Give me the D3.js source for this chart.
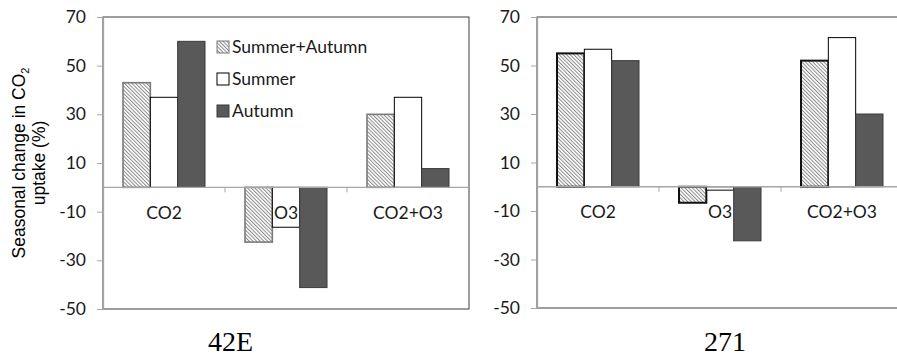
<!DOCTYPE html>
<html>
<head>
<meta charset="utf-8">
<script src="https://cdn.jsdelivr.net/npm/d3@7"></script>
<style>
  body { margin: 0; background: #fff; }
  svg { display: block; }
</style>
</head>
<body>
<svg id="chart" width="897" height="358"></svg>
<script>
// data (% change in CO2 uptake)
const categories = ["CO2", "O3", "CO2+O3"];
const seriesNames = ["Summer+Autumn", "Summer", "Autumn"];
const yTicks = [70, 50, 30, 10, -10, -30, -50];
const panelNames = ["42E", "271"];

const summerAutumn42E = [43, -22.5, 30];
const summer42E = [37, -16.4, 37];
const autumn42E = [60, -41.2, 7.7];

const summerAutumn271 = [55, -6.6, 52];
const summer271 = [56.7, -1.4, 61.5];
const autumn271 = [52, -22.3, 30];

let svg = d3.select("#chart");

// diagonal hatch for the Summer+Autumn bars
let defs = svg.append("defs");
let pat = defs.append("pattern")
  .attr("id", "hatch")
  .attr("patternUnits", "userSpaceOnUse")
  .attr("width", 2.6)
  .attr("height", 2.6)
  .attr("patternTransform", "rotate(-45)");
pat.append("rect").attr("width", 2.6).attr("height", 2.6).attr("fill", "#fff");
pat.append("line")
  .attr("x1", 0.5).attr("y1", 0).attr("x2", 0.5).attr("y2", 2.6)
  .attr("stroke", "#8a8a8a").attr("stroke-width", 1);

const tickFont = "Lato, 'DejaVu Sans', sans-serif";

// per-series look
let styleFor = {
  "Summer+Autumn": { fill: "url(#hatch)", stroke: "#7a7a7a", width: 1.6 },
  "Summer": { fill: "#fff", stroke: "#000", width: 1 },
  "Autumn": { fill: "#595959", stroke: "#3a3a3a", width: 1 }
};

function drawPanel(panel) {
  let y = d3.scaleLinear().domain([-50, 70]).range([panel.bottom, panel.top]);
  let x0 = d3.scaleBand().domain(categories).range([panel.left, panel.left + 366]);
  let x1 = d3.scaleBand().domain(seriesNames).range([20, 102]);

  let g = svg.append("g");

  // plot area frame
  g.append("rect")
    .attr("x", panel.left)
    .attr("y", panel.top)
    .attr("width", 366)
    .attr("height", panel.bottom - panel.top)
    .attr("fill", "none")
    .attr("stroke", "#3c3c3c")
    .attr("stroke-width", 1);

  // bars
  let rows = categories.map(function(c, i) {
    return seriesNames.map(function(s, j) {
      return { cat: c, series: s, value: panel.series[j][i] };
    });
  });
  let bars = [].concat.apply([], rows);

  g.append("g")
    .selectAll("rect")
    .data(bars)
    .enter()
    .append("rect")
    .attr("x", function(d) { return x0(d.cat) + x1(d.series); })
    .attr("width", x1.bandwidth())
    .attr("y", function(d) { return y(Math.max(0, d.value)); })
    .attr("height", function(d) { return Math.abs(y(d.value) - y(0)); })
    .attr("fill", function(d) { return styleFor[d.series].fill; })
    .attr("stroke", function(d) {
      return d.series === "Summer+Autumn" ? panel.hatchStroke : styleFor[d.series].stroke;
    })
    .attr("stroke-width", function(d) {
      return d.series === "Summer+Autumn" ? panel.hatchWidth : styleFor[d.series].width;
    });

  // zero line with category boundary ticks
  let zero = y(0);
  g.append("line")
    .attr("x1", panel.left).attr("x2", panel.left + 366)
    .attr("y1", zero).attr("y2", zero)
    .attr("stroke", "#a6a6a6").attr("stroke-width", 1.3);
  g.append("g")
    .selectAll("line")
    .data(categories.slice(1))
    .enter()
    .append("line")
    .attr("x1", function(d) { return x0(d); })
    .attr("x2", function(d) { return x0(d); })
    .attr("y1", zero).attr("y2", zero + 5)
    .attr("stroke", "#a6a6a6");

  // category labels
  g.append("g")
    .selectAll("text")
    .data(categories)
    .enter()
    .append("text")
    .attr("x", function(d) { return x0(d) + x0.bandwidth() / 2; })
    .attr("y", zero + 31.5)
    .attr("text-anchor", "middle")
    .style("font-family", tickFont)
    .style("font-size", "17.5px")
    .style("fill", "#1a1a1a")
    .text(function(d) { return d; });

  // value axis (plain hyphen minus like the original)
  let axis = g.append("g")
    .attr("transform", "translate(" + panel.left + ",0)")
    .call(d3.axisLeft(y)
      .tickValues(yTicks)
      .tickFormat(function(d) { return String(d); })
      .tickSize(6)
      .tickSizeOuter(0)
      .tickPadding(11));
  axis.select(".domain").attr("stroke", "#a6a6a6").attr("stroke-width", 1.3);
  axis.selectAll(".tick line").attr("stroke", "#a6a6a6");
  axis.selectAll(".tick text")
    .style("font-family", tickFont)
    .style("font-size", "17.5px")
    .style("fill", "#1a1a1a");

  // panel name below
  svg.append("text")
    .attr("x", panel.titleX)
    .attr("y", 351)
    .attr("text-anchor", "middle")
    .style("font-family", "'Liberation Serif', 'Times New Roman', serif")
    .style("font-size", "28px")
    .style("fill", "#000")
    .text(panel.name);
}

let panels = [
  { name: panelNames[0], left: 103, top: 17, bottom: 309, titleX: 230.5,
    series: [summerAutumn42E, summer42E, autumn42E], hatchStroke: "#7a7a7a", hatchWidth: 1.6 },
  { name: panelNames[1], left: 537, top: 17, bottom: 308, titleX: 725,
    series: [summerAutumn271, summer271, autumn271], hatchStroke: "#111", hatchWidth: 2 }
];

panels.forEach(drawPanel);

// legend inside the left panel
let legend = svg.append("g")
  .selectAll("g")
  .data(seriesNames)
  .enter()
  .append("g")
  .attr("transform", function(d, i) { return "translate(217," + (47 + i * 32) + ")"; });

legend.append("rect")
  .attr("x", 0).attr("y", -6)
  .attr("width", 12).attr("height", 12)
  .attr("fill", function(d) { return styleFor[d].fill; })
  .attr("stroke", function(d) { return styleFor[d].stroke; })
  .attr("stroke-width", 1);

legend.append("text")
  .attr("x", 15)
  .attr("y", 0)
  .attr("dy", "0.36em")
  .style("font-family", tickFont)
  .style("font-size", "17.5px")
  .style("fill", "#1a1a1a")
  .text(function(d) { return d; });

// y axis title, two rotated lines
let title = svg.append("g").attr("transform", "translate(0,163) rotate(-90)");
let line1 = title.append("text")
  .attr("x", 0).attr("y", 25)
  .attr("text-anchor", "middle")
  .style("font-family", "'Liberation Sans', Arial, sans-serif")
  .style("font-size", "17.5px")
  .style("fill", "#000");
line1.append("tspan").text("Seasonal change in CO");
line1.append("tspan").attr("dy", 4).style("font-size", "11px").text("2");

title.append("text")
  .attr("x", 0).attr("y", 44.5)
  .attr("text-anchor", "middle")
  .style("font-family", "'Liberation Sans', Arial, sans-serif")
  .style("font-size", "17.5px")
  .style("fill", "#000")
  .text("uptake (%)");
</script>
</body>
</html>
